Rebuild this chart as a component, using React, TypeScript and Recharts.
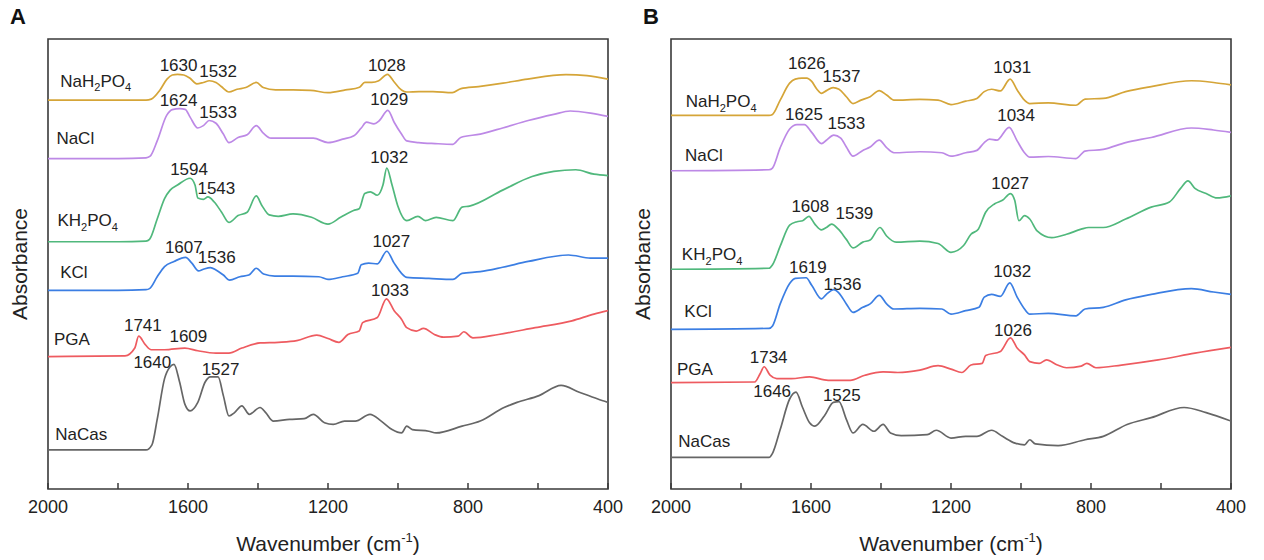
import React from 'react';
import { LineChart, Line, XAxis, YAxis, ReferenceDot, ReferenceArea, Label } from 'recharts';

type P = [number, number];

// ---------- Panel A spectra (wavenumber cm-1, absorbance a.u.) ----------
const A_NAH2PO4: P[] = [[2000,1.145],[1800,1.145],[1720,1.145],[1705,1.148],[1680,1.175],[1660,1.207],[1645,1.219],[1630,1.221],[1612,1.219],[1595,1.21],[1575,1.193],[1556,1.197],[1539,1.202],[1520,1.197],[1505,1.185],[1483,1.169],[1460,1.177],[1435,1.182],[1405,1.197],[1385,1.182],[1350,1.175],[1300,1.175],[1250,1.174],[1200,1.167],[1150,1.175],[1110,1.183],[1095,1.197],[1075,1.197],[1055,1.202],[1030,1.221],[1012,1.2],[990,1.175],[975,1.169],[940,1.17],[900,1.17],[845,1.167],[820,1.179],[770,1.185],[700,1.195],[630,1.207],[520,1.22],[460,1.217],[400,1.207]];
const A_NACL: P[] = [[2000,0.973],[1800,0.973],[1720,0.975],[1708,0.98],[1688,1.025],[1661,1.1],[1645,1.117],[1624,1.12],[1608,1.118],[1594,1.095],[1572,1.063],[1556,1.07],[1539,1.085],[1520,1.077],[1499,1.045],[1483,1.02],[1457,1.035],[1431,1.043],[1405,1.07],[1384,1.047],[1363,1.033],[1300,1.033],[1242,1.033],[1200,1.02],[1158,1.03],[1126,1.04],[1105,1.063],[1090,1.08],[1069,1.075],[1053,1.085],[1029,1.115],[1011,1.08],[990,1.045],[975,1.025],[941,1.02],[894,1.017],[843,1.015],[821,1.035],[765,1.045],[701,1.063],[628,1.085],[555,1.103],[508,1.113],[450,1.107],[400,1.097]];
const A_KH2PO4: P[] = [[2000,0.728],[1800,0.728],[1720,0.73],[1710,0.735],[1688,0.795],[1667,0.855],[1651,0.88],[1630,0.895],[1594,0.915],[1580,0.895],[1572,0.857],[1556,0.853],[1543,0.86],[1525,0.845],[1504,0.815],[1483,0.785],[1457,0.805],[1431,0.815],[1405,0.863],[1389,0.835],[1368,0.807],[1342,0.803],[1300,0.81],[1247,0.8],[1200,0.78],[1164,0.8],[1127,0.82],[1111,0.825],[1095,0.87],[1079,0.875],[1059,0.865],[1043,0.895],[1032,0.945],[1017,0.895],[1001,0.835],[975,0.79],[943,0.803],[922,0.79],[891,0.8],[843,0.79],[817,0.83],[796,0.833],[701,0.88],[617,0.92],[555,0.935],[492,0.94],[440,0.927],[400,0.923]];
const A_KCL: P[] = [[2000,0.585],[1800,0.585],[1720,0.587],[1710,0.59],[1688,0.625],[1667,0.655],[1640,0.67],[1607,0.682],[1589,0.665],[1570,0.642],[1556,0.647],[1536,0.652],[1520,0.645],[1499,0.63],[1481,0.615],[1452,0.625],[1426,0.63],[1405,0.65],[1384,0.633],[1352,0.627],[1300,0.627],[1226,0.625],[1200,0.617],[1158,0.625],[1115,0.635],[1105,0.66],[1084,0.665],[1059,0.663],[1032,0.7],[1011,0.665],[990,0.635],[975,0.623],[912,0.62],[843,0.617],[817,0.635],[765,0.64],[701,0.653],[628,0.67],[513,0.689],[450,0.68],[400,0.68]];
const A_PGA: P[] = [[2000,0.39],[1780,0.392],[1752,0.415],[1741,0.45],[1722,0.425],[1705,0.41],[1667,0.41],[1609,0.415],[1572,0.407],[1520,0.4],[1483,0.4],[1446,0.415],[1394,0.43],[1342,0.432],[1289,0.437],[1232,0.453],[1200,0.443],[1169,0.432],[1143,0.455],[1111,0.465],[1101,0.49],[1059,0.505],[1033,0.56],[1011,0.525],[990,0.5],[975,0.475],[948,0.465],[927,0.473],[896,0.455],[870,0.447],[828,0.45],[812,0.463],[786,0.445],[713,0.455],[608,0.475],[503,0.495],[440,0.515],[400,0.525]];
const A_NACAS: P[] = [[2000,0.115],[1720,0.115],[1703,0.13],[1688,0.205],[1667,0.325],[1651,0.36],[1640,0.367],[1624,0.315],[1609,0.25],[1594,0.23],[1572,0.255],[1551,0.315],[1536,0.33],[1514,0.33],[1499,0.275],[1483,0.215],[1467,0.225],[1446,0.245],[1425,0.22],[1394,0.24],[1378,0.225],[1357,0.2],[1310,0.205],[1268,0.207],[1242,0.22],[1210,0.195],[1185,0.19],[1153,0.2],[1122,0.2],[1080,0.22],[1048,0.2],[1017,0.175],[990,0.165],[975,0.185],[959,0.175],[912,0.17],[891,0.165],[817,0.185],[765,0.2],[697,0.24],[660,0.255],[597,0.275],[534,0.305],[482,0.285],[429,0.265],[400,0.255]];

// ---------- Panel B spectra ----------
const B_NAH2PO4: P[] = [[2000,1.1],[1720,1.1],[1710,1.103],[1688,1.145],[1661,1.195],[1645,1.207],[1626,1.21],[1612,1.21],[1598,1.2],[1583,1.177],[1570,1.165],[1556,1.173],[1537,1.182],[1520,1.177],[1499,1.155],[1480,1.135],[1457,1.145],[1431,1.155],[1405,1.173],[1384,1.16],[1363,1.145],[1289,1.147],[1237,1.145],[1200,1.132],[1158,1.142],[1126,1.15],[1105,1.17],[1084,1.177],[1059,1.172],[1031,1.207],[1011,1.175],[990,1.145],[975,1.135],[922,1.137],[843,1.13],[817,1.148],[765,1.15],[701,1.17],[628,1.185],[513,1.202],[450,1.197],[400,1.19]];
const B_NACL: P[] = [[2000,0.937],[1720,0.94],[1710,0.945],[1688,1.005],[1661,1.06],[1640,1.073],[1619,1.073],[1598,1.05],[1570,1.017],[1556,1.027],[1535,1.042],[1515,1.033],[1499,1.007],[1480,0.98],[1452,0.997],[1431,1.007],[1405,1.027],[1384,1.005],[1363,0.99],[1289,0.993],[1226,0.99],[1200,0.98],[1158,0.99],[1126,0.997],[1105,1.02],[1090,1.03],[1069,1.027],[1034,1.065],[1011,1.025],[990,0.99],[975,0.977],[922,0.979],[843,0.973],[817,0.995],[765,1.0],[701,1.02],[628,1.035],[513,1.063],[450,1.057],[400,1.05]];
const B_KH2PO4: P[] = [[2000,0.647],[1720,0.65],[1710,0.66],[1688,0.715],[1661,0.777],[1640,0.787],[1624,0.79],[1606,0.803],[1589,0.78],[1570,0.763],[1556,0.77],[1541,0.78],[1522,0.765],[1499,0.735],[1480,0.71],[1452,0.727],[1431,0.733],[1403,0.77],[1384,0.745],[1357,0.727],[1289,0.73],[1237,0.723],[1200,0.697],[1164,0.717],[1143,0.75],[1122,0.765],[1101,0.815],[1075,0.84],[1053,0.85],[1030,0.87],[1018,0.85],[1006,0.79],[990,0.805],[975,0.795],[954,0.76],[912,0.74],[870,0.75],[828,0.765],[807,0.77],[765,0.77],[701,0.795],[628,0.83],[576,0.845],[544,0.885],[523,0.907],[503,0.885],[471,0.87],[440,0.857],[400,0.863]];
const B_KCL: P[] = [[2000,0.47],[1720,0.473],[1710,0.48],[1688,0.545],[1661,0.605],[1645,0.62],[1614,0.622],[1598,0.6],[1570,0.56],[1556,0.573],[1535,0.587],[1520,0.577],[1499,0.545],[1480,0.52],[1452,0.535],[1431,0.545],[1405,0.57],[1384,0.545],[1363,0.53],[1289,0.532],[1226,0.53],[1200,0.515],[1158,0.525],[1120,0.535],[1105,0.565],[1084,0.573],[1059,0.567],[1032,0.607],[1011,0.565],[990,0.53],[975,0.515],[922,0.517],[843,0.51],[817,0.53],[765,0.535],[701,0.557],[628,0.573],[513,0.59],[450,0.58],[400,0.573]];
const B_PGA: P[] = [[2000,0.313],[1761,0.315],[1745,0.34],[1734,0.36],[1717,0.335],[1698,0.325],[1656,0.325],[1604,0.33],[1551,0.32],[1488,0.32],[1446,0.335],[1394,0.345],[1352,0.343],[1289,0.35],[1237,0.363],[1200,0.353],[1169,0.343],[1143,0.365],[1111,0.37],[1101,0.393],[1059,0.405],[1030,0.445],[1011,0.415],[990,0.395],[975,0.375],[948,0.37],[927,0.38],[896,0.365],[870,0.357],[828,0.362],[812,0.37],[786,0.357],[713,0.365],[608,0.38],[503,0.4],[400,0.417]];
const B_NACAS: P[] = [[2000,0.093],[1720,0.093],[1710,0.105],[1688,0.175],[1661,0.265],[1643,0.285],[1624,0.24],[1604,0.195],[1589,0.185],[1562,0.215],[1536,0.255],[1520,0.257],[1499,0.205],[1480,0.165],[1452,0.19],[1420,0.17],[1394,0.19],[1373,0.165],[1342,0.157],[1268,0.16],[1242,0.173],[1200,0.15],[1158,0.155],[1126,0.155],[1084,0.173],[1053,0.155],[1017,0.135],[990,0.13],[975,0.145],[959,0.133],[894,0.128],[817,0.145],[765,0.155],[697,0.19],[628,0.21],[534,0.24],[471,0.225],[400,0.2]];

// ---------- categories / ticks ----------
const SAMPLES = ['NaH2PO4', 'NaCl', 'KH2PO4', 'KCl', 'PGA', 'NaCas'];
const X_TICKS = [2000, 1800, 1600, 1400, 1200, 1000, 800, 600, 400];
const X_TICK_LABELS = [2000, 1600, 1200, 800, 400];
const Y_MAX = 1.325;

// ---------- annotations (anchored in data coordinates) ----------
type Anno = { text: string; x: number; y: number };
const A_NAMES: Anno[] = [
  { text: 'NaH2PO4', x: 1965, y: 1.185 },
  { text: 'NaCl', x: 1976, y: 1.017 },
  { text: 'KH2PO4', x: 1973, y: 0.775 },
  { text: 'KCl', x: 1965, y: 0.622 },
  { text: 'PGA', x: 1983, y: 0.425 },
  { text: 'NaCas', x: 1979, y: 0.145 },
];
const A_PEAKS: Anno[] = [
  { text: '1630', x: 1627, y: 1.23 }, { text: '1532', x: 1514, y: 1.213 }, { text: '1028', x: 1032, y: 1.23 },
  { text: '1624', x: 1627, y: 1.127 }, { text: '1533', x: 1514, y: 1.093 }, { text: '1029', x: 1025, y: 1.13 },
  { text: '1594', x: 1597, y: 0.925 }, { text: '1543', x: 1519, y: 0.87 }, { text: '1032', x: 1025, y: 0.96 },
  { text: '1607', x: 1612, y: 0.695 }, { text: '1536', x: 1518, y: 0.665 }, { text: '1027', x: 1019, y: 0.713 },
  { text: '1741', x: 1729, y: 0.465 }, { text: '1609', x: 1599, y: 0.433 }, { text: '1033', x: 1023, y: 0.567 },
  { text: '1640', x: 1702, y: 0.357 }, { text: '1527', x: 1507, y: 0.335 },
];
const B_NAMES: Anno[] = [
  { text: 'NaH2PO4', x: 1958, y: 1.125 },
  { text: 'NaCl', x: 1960, y: 0.967 },
  { text: 'KH2PO4', x: 1969, y: 0.673 },
  { text: 'KCl', x: 1962, y: 0.507 },
  { text: 'PGA', x: 1983, y: 0.335 },
  { text: 'NaCas', x: 1979, y: 0.123 },
];
const B_PEAKS: Anno[] = [
  { text: '1626', x: 1612, y: 1.237 }, { text: '1537', x: 1513, y: 1.197 }, { text: '1031', x: 1025, y: 1.225 },
  { text: '1625', x: 1620, y: 1.087 }, { text: '1533', x: 1499, y: 1.06 }, { text: '1034', x: 1014, y: 1.085 },
  { text: '1608', x: 1602, y: 0.817 }, { text: '1539', x: 1476, y: 0.795 }, { text: '1027', x: 1031, y: 0.883 },
  { text: '1619', x: 1609, y: 0.635 }, { text: '1536', x: 1510, y: 0.587 }, { text: '1032', x: 1025, y: 0.623 },
  { text: '1734', x: 1721, y: 0.37 }, { text: '1026', x: 1023, y: 0.45 },
  { text: '1646', x: 1711, y: 0.27 }, { text: '1525', x: 1512, y: 0.26 },
];

const COLORS = ['#D5A538', '#BD89E6', '#50B87C', '#3B7EE3', '#EE5B60', '#666666'];
const FONT = '"Liberation Sans", Arial, Helvetica, sans-serif';
const INK = '#222';
const FRAME = '#3a3a3a';

const toPts = (arr: P[]) => arr.map(([x, y]) => ({ x, y }));

const chem = (name: string, fs: number) => {
  const parts = name.split(/(\d)/).filter((s) => s !== '');
  const out: React.ReactNode[] = [];
  let shifted = false;
  parts.forEach((s, i) => {
    if (/^\d$/.test(s)) {
      out.push(<tspan key={i} fontSize={fs * 0.65} dy={fs * 0.28}>{s}</tspan>);
      shifted = true;
    } else {
      out.push(<tspan key={i} dy={shifted ? -fs * 0.28 : 0}>{s}</tspan>);
      shifted = false;
    }
  });
  return out;
};

const XTick = (props: any) => {
  const { x, y, payload } = props;
  const v = payload.value;
  return (
    <g>
      <line x1={x} x2={x} y1={y} y2={y - 6} stroke={FRAME} strokeWidth={1.5} />
      {X_TICK_LABELS.includes(v) && (
        <text x={x} y={y + 24} textAnchor="middle" fontSize={18} fontFamily={FONT} fill={INK}>{v}</text>
      )}
    </g>
  );
};

const WaveLabel = (props: any) => {
  const vb = props.viewBox || { x: 48, y: 489, width: 560, height: 60 };
  return (
    <text x={vb.x + vb.width / 2} y={vb.y + 62} textAnchor="middle" fontSize={21} fontFamily={FONT} fill={INK}>
      Wavenumber (cm<tspan fontSize={13} dy={-9}>-1</tspan><tspan dy={9}>)</tspan>
    </text>
  );
};

const AbsLabel = (props: any) => {
  const vb = props.viewBox || { x: 0, y: 39, width: 48, height: 450 };
  const cx = vb.x + vb.width - 21;
  const cy = vb.y + vb.height / 2;
  return (
    <text x={cx} y={cy} transform={`rotate(-90 ${cx} ${cy})`} textAnchor="middle" fontSize={21} fontFamily={FONT} fill={INK}>
      Absorbance
    </text>
  );
};

type PanelProps = {
  series: P[][];
  names: Anno[];
  peaks: Anno[];
  yAxisWidth: number;
  marginRight: number;
};

function Panel({ series, names, peaks, yAxisWidth, marginRight }: PanelProps) {
  return (
    <LineChart width={632} height={560} margin={{ top: 39, right: marginRight, bottom: 11, left: 0 }}>
      <XAxis
        dataKey="x"
        type="number"
        domain={[400, 2000]}
        reversed
        allowDataOverflow
        ticks={X_TICKS}
        interval={0}
        axisLine={false}
        tickLine={false}
        tickSize={0}
        tickMargin={0}
        tick={(p: any) => <XTick {...p} />}
        height={60}
      >
        <Label content={WaveLabel} />
      </XAxis>
      <YAxis
        type="number"
        domain={[0, Y_MAX]}
        allowDataOverflow
        tick={false}
        tickLine={false}
        axisLine={false}
        width={yAxisWidth}
      >
        <Label content={AbsLabel} />
      </YAxis>
      <ReferenceArea x1={2000} x2={400} y1={0} y2={Y_MAX} fill="none" fillOpacity={0} stroke={FRAME} strokeWidth={1.6} />
      {series.map((s, i) => (
        <Line
          key={SAMPLES[i]}
          name={SAMPLES[i]}
          data={toPts(s)}
          dataKey="y"
          type="monotone"
          stroke={COLORS[i]}
          strokeWidth={1.7}
          dot={false}
          activeDot={false}
          isAnimationActive={false}
        />
      ))}
      {names.map((n) => (
        <ReferenceDot
          key={'n' + n.text}
          x={n.x}
          y={n.y}
          r={0}
          ifOverflow="visible"
          shape={(p: any) => (
            <text x={p.cx} y={p.cy} textAnchor="start" fontSize={17} fontFamily={FONT} fill={INK}>
              {chem(n.text, 17)}
            </text>
          )}
        />
      ))}
      {peaks.map((n, i) => (
        <ReferenceDot
          key={'p' + i}
          x={n.x}
          y={n.y}
          r={0}
          ifOverflow="visible"
          shape={(p: any) => (
            <text x={p.cx} y={p.cy} textAnchor="middle" fontSize={17} fontFamily={FONT} fill={INK}>
              {n.text}
            </text>
          )}
        />
      ))}
    </LineChart>
  );
}

export default function App() {
  return (
    <div style={{ position: 'absolute', left: 0, top: 0, width: 1264, height: 560, background: '#fff', fontFamily: FONT }}>
      <div style={{ position: 'absolute', left: 0, top: 0 }}>
        <Panel
          series={[A_NAH2PO4, A_NACL, A_KH2PO4, A_KCL, A_PGA, A_NACAS]}
          names={A_NAMES}
          peaks={A_PEAKS}
          yAxisWidth={48}
          marginRight={24}
        />
      </div>
      <div style={{ position: 'absolute', left: 632, top: 0 }}>
        <Panel
          series={[B_NAH2PO4, B_NACL, B_KH2PO4, B_KCL, B_PGA, B_NACAS]}
          names={B_NAMES}
          peaks={B_PEAKS}
          yAxisWidth={39}
          marginRight={33}
        />
      </div>
      <div style={{ position: 'absolute', left: 10, top: 4, fontSize: 22, fontWeight: 'bold', color: '#111' }}>A</div>
      <div style={{ position: 'absolute', left: 643, top: 4, fontSize: 22, fontWeight: 'bold', color: '#111' }}>B</div>
    </div>
  );
}
